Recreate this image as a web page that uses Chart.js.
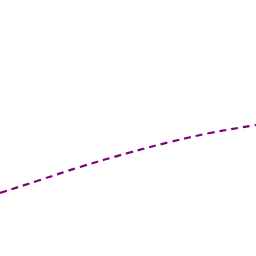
<!DOCTYPE html>
<html>
<head>
<meta charset="utf-8">
<script src="https://cdn.jsdelivr.net/npm/chart.js@4"></script>
<style>
  html, body { margin: 0; padding: 0; background: #fff; }
  #wrap { width: 256px; height: 256px; }
</style>
</head>
<body>
<div id="wrap"><canvas id="myChart" width="256" height="256"></canvas></div>
<script>
// curve values
const xs = [0, 40, 80, 128, 170, 210, 256];
const ys = [63, 76, 89, 103, 114, 123, 131];

document.addEventListener("DOMContentLoaded", () => {
  const ctx = document.getElementById('myChart').getContext('2d');

  new Chart(ctx, {
    type: 'line',
    data: {
      datasets: [{
        data: xs.map((x, i) => ({ x: x, y: ys[i] })),
        borderColor: '#800080',
        borderWidth: 2.2,
        borderDash: [7, 5],
        pointRadius: 0,
        fill: false,
        tension: 0.4
      }]
    },
    options: {
      responsive: false,
      animation: false,
      layout: { padding: 0 },
      plugins: { legend: { display: false }, tooltip: { enabled: false } },
      scales: {
        x: { type: 'linear', min: 0, max: 256, display: false },
        y: { min: 0, max: 256, display: false }
      }
    }
  });
});
</script>
</body>
</html>
